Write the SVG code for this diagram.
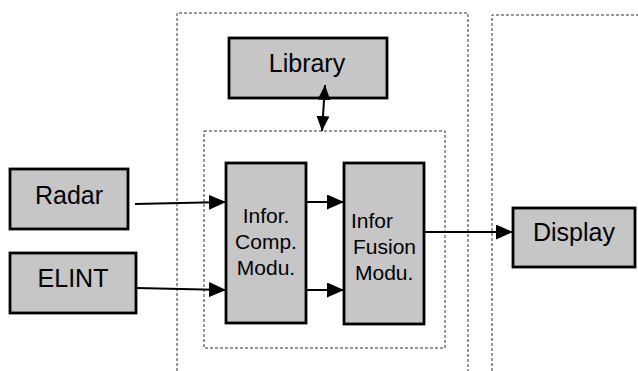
<svg xmlns="http://www.w3.org/2000/svg" width="638" height="371" viewBox="0 0 638 371">
<defs>
<marker id="ah" markerUnits="userSpaceOnUse" markerWidth="17" markerHeight="15" refX="17" refY="7.5" orient="auto"><path d="M0,0 L17,7.5 L0,15 z" fill="#000"/></marker>
<marker id="ahs" markerUnits="userSpaceOnUse" markerWidth="15" markerHeight="13" refX="15" refY="6.5" orient="auto-start-reverse"><path d="M0,0 L15,6.5 L0,13 z" fill="#000"/></marker>
</defs>
<style>
.box{fill:#c6c6c6;stroke:#000;stroke-width:2.8}
.dash{fill:none;stroke:#333;stroke-width:1;stroke-dasharray:3 2}
.t{font-family:"Liberation Sans",Arial,sans-serif;fill:#000}
.big{font-size:25px;text-anchor:middle}
.sm{font-size:21px}
.c{text-anchor:middle}
.ln{stroke:#000;stroke-width:2;fill:none}
</style>
<rect width="638" height="371" fill="#fff"/>
<g id="containers">
<path class="dash" d="M177,371 V13 H468 V371"/>
<path class="dash" d="M492,371 V15 H638"/>
<rect class="dash" x="204" y="131" width="241" height="217"/>
</g>
<g id="library"><rect class="box" x="229" y="38" width="158" height="60"/><text class="t big" x="307" y="72">Library</text></g>
<g id="radar"><rect class="box" x="10" y="169" width="118" height="60"/><text class="t big" x="69" y="204">Radar</text></g>
<g id="elint"><rect class="box" x="10" y="253" width="126" height="60"/><text class="t big" x="73" y="287">ELINT</text></g>
<g id="comp"><rect class="box" x="226" y="163" width="80" height="160"/>
<text class="t sm c" x="266" y="223">Infor.</text><text class="t sm c" x="266" y="249">Comp.</text><text class="t sm c" x="266" y="275">Modu.</text></g>
<g id="fusion"><rect class="box" x="344" y="163" width="80" height="161"/>
<text class="t sm" x="351" y="228">Infor</text><text class="t sm" x="353" y="254">Fusion</text><text class="t sm" x="355" y="280">Modu.</text></g>
<g id="display"><rect class="box" x="513" y="208" width="122" height="59"/><text class="t big" x="574" y="241">Display</text></g>
<g id="connectors">
<line class="ln" x1="135" y1="204" x2="226" y2="202" marker-end="url(#ah)"/>
<line class="ln" x1="136" y1="288" x2="226" y2="290" marker-end="url(#ah)"/>
<line class="ln" x1="306" y1="202" x2="344" y2="202" marker-end="url(#ah)"/>
<line class="ln" x1="306" y1="290" x2="344" y2="290" marker-end="url(#ah)"/>
<line class="ln" x1="424" y1="232" x2="513" y2="232" marker-end="url(#ah)"/>
<line class="ln" x1="325" y1="85" x2="322" y2="131" marker-start="url(#ahs)" marker-end="url(#ahs)"/>
</g>
</svg>
